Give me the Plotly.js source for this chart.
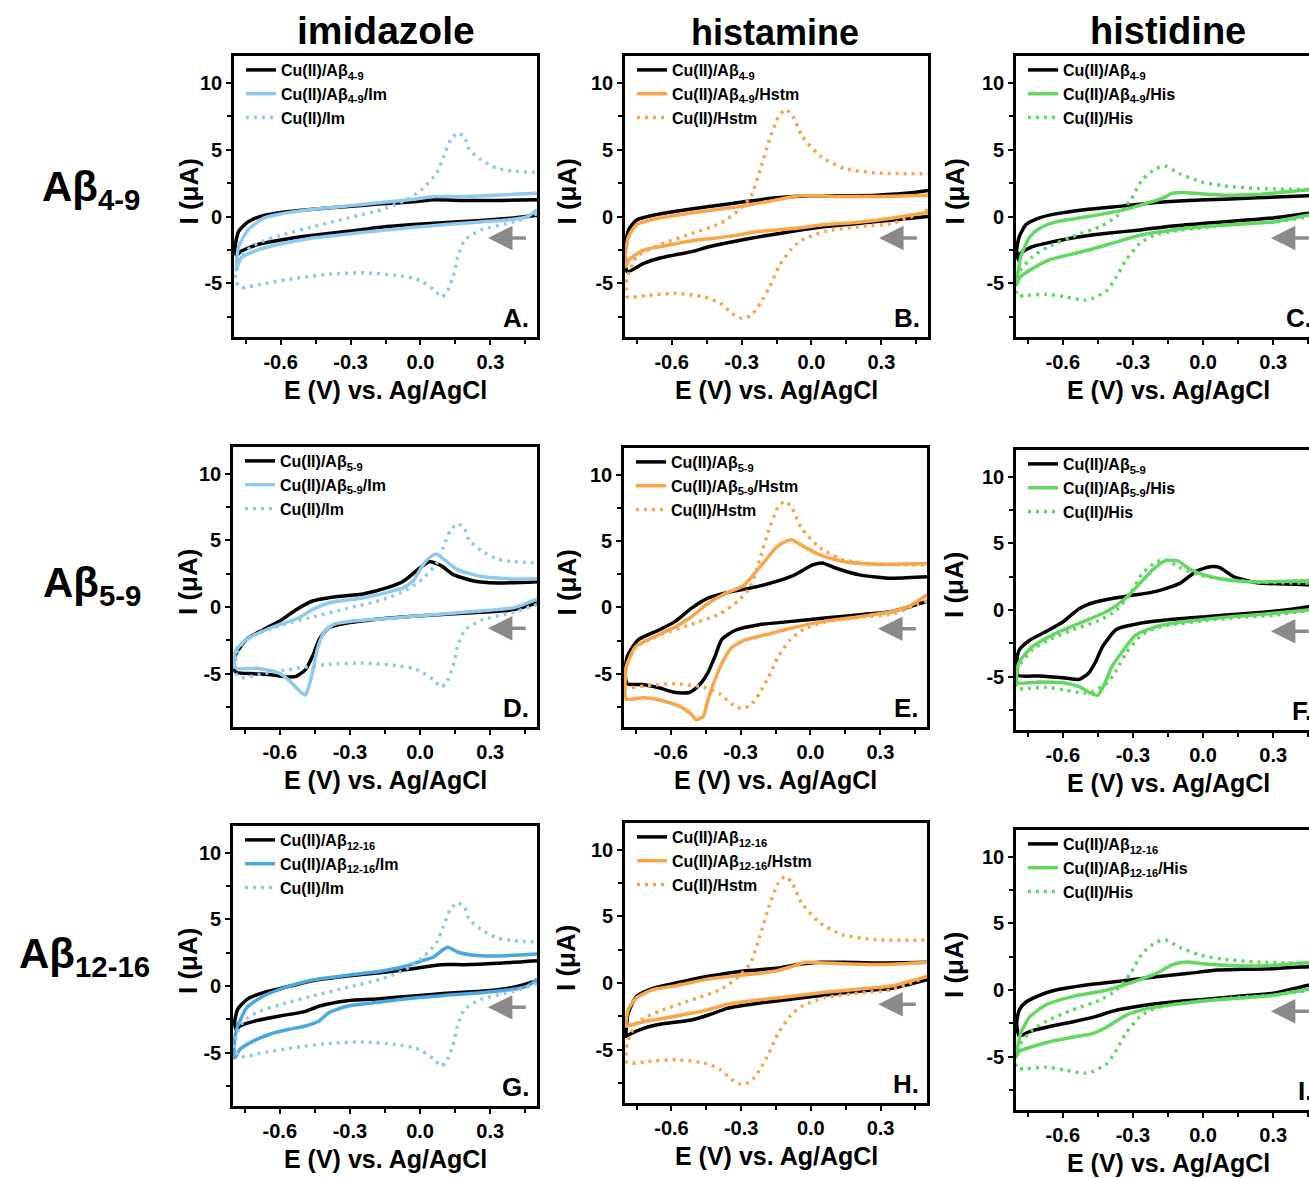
<!DOCTYPE html>
<html><head><meta charset="utf-8">
<script src="https://cdn.plot.ly/plotly-3.0.1.min.js"></script>
<style>html,body{margin:0;padding:0;overflow:hidden;background:#fff}#chart{width:1330px;height:1178px}</style>
</head><body><div id="chart"></div>
<script>
// ---------- DATA (E in V, I in µA), traced along each CV loop ----------
const imDotE  = [0.50,0.40,0.26,0.19,0.16,0.14,0.11,0.09,0.06,0.01,-0.03,-0.10,-0.24,-0.39,-0.53,-0.67,-0.77,-0.795,-0.785,-0.76,-0.70,-0.60,-0.46,-0.31,-0.17,-0.06,0.01,0.07,0.10,0.13,0.16,0.19,0.21,0.26,0.33,0.40,0.50];
const imDotI  = [0.2,-0.4,-1.0,-1.75,-3.0,-4.5,-5.75,-6.0,-5.5,-4.9,-4.6,-4.4,-4.2,-4.3,-4.6,-5.0,-5.3,-4.75,-3.75,-2.75,-2.0,-1.4,-0.75,-0.1,0.5,1.25,2.1,3.25,4.5,5.75,6.25,5.9,5.0,4.25,3.6,3.4,3.3];
const hstmDotE = [0.50,0.35,0.21,0.06,-0.04,-0.09,-0.14,-0.18,-0.22,-0.26,-0.30,-0.34,-0.39,-0.46,-0.58,-0.71,-0.79,-0.795,-0.79,-0.75,-0.65,-0.51,-0.39,-0.31,-0.26,-0.22,-0.18,-0.14,-0.11,-0.08,-0.04,0.04,0.14,0.28,0.50];
const hstmDotI = [0.5,-0.5,-0.75,-1.1,-1.75,-2.5,-3.75,-5.25,-6.5,-7.4,-7.6,-7.25,-6.5,-6.0,-5.75,-5.9,-6.0,-5.0,-4.5,-3.0,-2.1,-1.25,-0.5,0.5,1.5,3.5,5.75,7.5,8.0,7.5,6.0,4.5,3.6,3.25,3.2];
const hisDotE = [0.50,0.30,0.16,0.01,-0.13,-0.21,-0.27,-0.33,-0.37,-0.41,-0.47,-0.51,-0.59,-0.67,-0.76,-0.795,-0.80,-0.79,-0.73,-0.66,-0.56,-0.44,-0.37,-0.31,-0.26,-0.20,-0.16,-0.10,-0.01,0.09,0.23,0.50];
const hisDotI = [0.1,-0.4,-0.55,-0.8,-1.1,-1.4,-2.0,-3.25,-4.5,-5.5,-6.1,-6.25,-6.0,-5.8,-5.9,-5.9,-5.0,-4.25,-3.0,-2.25,-1.5,-0.75,0.0,1.25,2.75,3.6,3.75,3.2,2.6,2.3,2.1,2.0];

const aBlkE = [0.50,0.40,0.26,0.11,-0.03,-0.17,-0.31,-0.46,-0.60,-0.70,-0.77,-0.79,-0.795,-0.78,-0.74,-0.69,-0.60,-0.46,-0.31,-0.17,-0.03,0.06,0.19,0.33,0.50];
const aBlkI = [0.1,-0.1,-0.3,-0.45,-0.6,-0.8,-1.1,-1.4,-1.75,-2.1,-2.6,-2.9,-2.25,-1.1,-0.4,0.0,0.3,0.55,0.75,0.95,1.1,1.25,1.2,1.2,1.25];
const aImE  = [0.50,0.46,0.40,0.26,0.11,-0.03,-0.17,-0.31,-0.46,-0.60,-0.70,-0.77,-0.79,-0.79,-0.78,-0.74,-0.67,-0.60,-0.46,-0.31,-0.17,-0.03,0.06,0.19,0.33,0.50];
const aImI  = [0.5,0.0,-0.2,-0.4,-0.6,-0.8,-1.05,-1.3,-1.6,-2.05,-2.5,-3.1,-4.0,-3.75,-2.25,-1.0,-0.1,0.2,0.55,0.8,1.05,1.3,1.5,1.5,1.6,1.75];

const bBlkE = [0.50,0.35,0.21,0.06,-0.08,-0.22,-0.36,-0.44,-0.51,-0.65,-0.72,-0.79,-0.80,-0.785,-0.75,-0.68,-0.58,-0.44,-0.29,-0.15,0.0,0.14,0.28,0.44,0.50];
const bBlkI = [0.0,-0.25,-0.5,-0.75,-1.1,-1.5,-1.95,-2.25,-2.6,-3.1,-3.5,-4.1,-2.5,-1.0,-0.25,0.1,0.4,0.75,1.1,1.4,1.55,1.55,1.6,1.8,1.95];
const bHsE  = [0.50,0.35,0.21,0.06,-0.08,-0.22,-0.36,-0.51,-0.65,-0.72,-0.785,-0.795,-0.80,-0.785,-0.75,-0.68,-0.58,-0.44,-0.29,-0.15,-0.05,0.04,0.14,0.28,0.50];
const bHsI  = [0.3,-0.1,-0.4,-0.6,-0.9,-1.1,-1.5,-1.8,-2.25,-2.5,-3.25,-3.75,-3.25,-1.5,-0.6,-0.2,0.1,0.45,0.8,1.25,1.55,1.55,1.5,1.5,1.6];

const cBlkE = [0.50,0.45,0.30,0.16,0.01,-0.13,-0.27,-0.41,-0.56,-0.66,-0.73,-0.78,-0.79,-0.797,-0.786,-0.757,-0.70,-0.63,-0.49,-0.34,-0.20,-0.06,0.09,0.23,0.45,0.50];
const cBlkI = [0.35,0.25,-0.1,-0.3,-0.5,-0.7,-1.0,-1.25,-1.6,-1.95,-2.25,-2.75,-3.25,-2.5,-1.5,-0.6,-0.1,0.2,0.55,0.8,1.05,1.2,1.3,1.4,1.55,1.6];
const cHiE  = [0.50,0.45,0.30,0.16,0.01,-0.13,-0.27,-0.39,-0.49,-0.56,-0.66,-0.74,-0.786,-0.797,-0.797,-0.78,-0.74,-0.70,-0.63,-0.49,-0.34,-0.24,-0.17,-0.13,-0.09,-0.01,0.09,0.23,0.45,0.50];
const cHiI  = [0.2,0.1,-0.4,-0.55,-0.75,-1.0,-1.4,-2.0,-2.5,-2.8,-3.25,-4.0,-4.6,-5.1,-5.0,-3.0,-1.5,-0.9,-0.4,0.0,0.5,1.0,1.4,1.75,1.8,1.7,1.6,1.65,2.0,2.05];

const dBlkE = [0.50,0.40,0.26,0.11,-0.03,-0.17,-0.31,-0.39,-0.43,-0.46,-0.49,-0.53,-0.57,-0.63,-0.71,-0.786,-0.797,-0.793,-0.74,-0.67,-0.60,-0.53,-0.46,-0.39,-0.24,-0.14,-0.07,0.0,0.04,0.09,0.14,0.23,0.33,0.50];
const dBlkI = [0.3,-0.2,-0.4,-0.55,-0.7,-0.9,-1.2,-1.55,-2.4,-3.7,-4.7,-5.2,-5.25,-5.1,-5.0,-4.9,-4.4,-3.7,-2.4,-1.7,-1.05,-0.2,0.45,0.7,1.0,1.45,1.95,2.95,3.4,3.1,2.45,1.95,1.8,1.9];
const dImE  = [0.50,0.40,0.26,0.11,-0.03,-0.17,-0.31,-0.37,-0.41,-0.44,-0.46,-0.48,-0.49,-0.51,-0.56,-0.61,-0.70,-0.786,-0.797,-0.786,-0.74,-0.67,-0.60,-0.53,-0.46,-0.39,-0.24,-0.14,-0.07,-0.03,0.01,0.04,0.07,0.10,0.16,0.26,0.40,0.50];
const dImI  = [0.6,-0.05,-0.3,-0.5,-0.7,-0.9,-1.1,-1.3,-1.9,-3.2,-4.9,-6.2,-6.6,-6.4,-5.5,-4.9,-4.6,-4.6,-4.05,-3.2,-2.4,-1.8,-1.3,-0.9,-0.2,0.3,0.7,1.1,1.45,1.95,3.1,3.7,3.95,3.6,2.8,2.3,2.1,2.1];

const eBlkE = [0.50,0.35,0.21,0.06,-0.08,-0.22,-0.32,-0.38,-0.41,-0.44,-0.48,-0.52,-0.58,-0.65,-0.72,-0.786,-0.795,-0.786,-0.74,-0.65,-0.58,-0.51,-0.44,-0.36,-0.22,-0.08,0.01,0.05,0.11,0.21,0.35,0.50];
const eBlkI = [0.45,-0.3,-0.55,-0.8,-1.05,-1.3,-1.7,-2.4,-3.7,-4.9,-5.9,-6.4,-6.4,-6.05,-5.8,-5.75,-4.9,-3.7,-2.45,-1.7,-1.05,-0.05,0.7,1.1,1.6,2.35,3.2,3.35,2.95,2.45,2.2,2.3];
const eHsE  = [0.50,0.42,0.35,0.21,0.06,-0.08,-0.19,-0.28,-0.34,-0.38,-0.41,-0.44,-0.46,-0.49,-0.51,-0.56,-0.65,-0.72,-0.79,-0.795,-0.79,-0.75,-0.65,-0.58,-0.51,-0.44,-0.36,-0.29,-0.25,-0.19,-0.15,-0.11,-0.08,-0.04,0.04,0.14,0.28,0.50];
const eHsI  = [0.95,0.05,-0.3,-0.7,-1.05,-1.55,-2.05,-2.45,-3.05,-4.2,-5.45,-6.95,-8.2,-8.45,-8.05,-7.45,-6.95,-6.8,-6.9,-5.45,-4.45,-2.95,-2.05,-1.45,-0.7,0.3,1.1,1.6,2.35,3.6,4.45,4.95,5.1,4.7,3.95,3.45,3.25,3.3];

const fBlkE = [0.50,0.45,0.30,0.16,0.01,-0.13,-0.27,-0.37,-0.43,-0.46,-0.49,-0.53,-0.59,-0.70,-0.793,-0.797,-0.786,-0.74,-0.67,-0.60,-0.53,-0.46,-0.34,-0.20,-0.10,-0.03,0.03,0.07,0.13,0.23,0.45,0.50];
const fBlkI = [0.4,0.25,-0.1,-0.3,-0.5,-0.7,-1.0,-1.45,-2.75,-3.9,-4.75,-5.2,-5.1,-4.95,-4.9,-4.0,-3.0,-2.25,-1.6,-0.9,0.1,0.6,1.0,1.4,2.0,2.9,3.25,3.2,2.5,2.05,1.9,1.9];
const fHiE  = [0.50,0.45,0.30,0.16,0.01,-0.13,-0.21,-0.29,-0.34,-0.39,-0.42,-0.45,-0.48,-0.53,-0.60,-0.70,-0.793,-0.797,-0.786,-0.73,-0.63,-0.53,-0.41,-0.33,-0.27,-0.21,-0.16,-0.11,-0.06,0.01,0.11,0.23,0.45,0.50];
const fHiI  = [0.1,0.0,-0.25,-0.45,-0.7,-1.0,-1.3,-1.9,-3.0,-4.25,-5.5,-6.4,-6.25,-5.75,-5.45,-5.4,-5.45,-4.75,-3.9,-2.75,-1.75,-1.0,-0.1,0.9,2.0,3.1,3.7,3.7,3.1,2.6,2.25,2.1,2.2,2.2];

const gBlkE = [0.50,0.40,0.26,0.11,-0.03,-0.17,-0.31,-0.43,-0.49,-0.60,-0.70,-0.77,-0.786,-0.793,-0.78,-0.74,-0.67,-0.60,-0.46,-0.31,-0.17,-0.03,0.09,0.19,0.33,0.50];
const gBlkI = [0.4,-0.1,-0.4,-0.55,-0.75,-0.95,-1.1,-1.5,-1.9,-2.25,-2.6,-3.0,-3.25,-2.75,-1.75,-1.0,-0.5,-0.2,0.4,0.75,1.0,1.3,1.6,1.6,1.7,1.9];
const gImE  = [0.50,0.46,0.40,0.26,0.11,-0.03,-0.17,-0.31,-0.39,-0.43,-0.49,-0.56,-0.64,-0.71,-0.77,-0.793,-0.793,-0.78,-0.74,-0.67,-0.60,-0.46,-0.31,-0.17,-0.06,0.01,0.06,0.10,0.12,0.16,0.23,0.33,0.50];
const gImI  = [0.5,0.0,-0.25,-0.5,-0.7,-0.9,-1.2,-1.5,-2.0,-2.6,-3.0,-3.25,-3.6,-4.1,-4.75,-5.4,-4.0,-3.0,-1.6,-0.75,-0.25,0.45,0.8,1.1,1.5,1.9,2.2,2.75,2.9,2.55,2.3,2.25,2.4];

const hBlkE = [0.50,0.35,0.21,0.06,-0.08,-0.22,-0.36,-0.44,-0.51,-0.65,-0.72,-0.786,-0.795,-0.786,-0.75,-0.68,-0.58,-0.44,-0.29,-0.15,-0.05,0.04,0.14,0.28,0.50];
const hBlkI = [0.25,-0.4,-0.6,-0.9,-1.2,-1.5,-1.9,-2.4,-2.75,-3.1,-3.4,-3.9,-4.0,-2.25,-1.0,-0.4,0.0,0.5,0.9,1.1,1.4,1.55,1.55,1.5,1.55];
const hHsE  = [0.50,0.35,0.21,0.06,-0.08,-0.22,-0.36,-0.44,-0.51,-0.65,-0.72,-0.786,-0.795,-0.786,-0.75,-0.68,-0.58,-0.44,-0.29,-0.15,-0.08,-0.02,0.06,0.21,0.35,0.50];
const hHsI  = [0.5,-0.2,-0.45,-0.7,-1.0,-1.25,-1.6,-2.0,-2.25,-2.7,-2.9,-3.2,-3.25,-2.0,-1.1,-0.5,-0.2,0.3,0.6,0.9,1.25,1.55,1.5,1.4,1.4,1.55];

const iBlkE = [0.50,0.45,0.30,0.16,0.01,-0.13,-0.27,-0.39,-0.46,-0.56,-0.66,-0.74,-0.786,-0.797,-0.786,-0.757,-0.70,-0.63,-0.49,-0.34,-0.20,-0.06,0.06,0.16,0.30,0.45,0.50];
const iBlkI = [0.5,0.35,-0.25,-0.45,-0.7,-0.9,-1.2,-1.6,-2.0,-2.4,-2.75,-3.1,-3.45,-2.5,-1.5,-0.9,-0.4,0.0,0.4,0.7,1.0,1.25,1.5,1.55,1.6,1.75,1.8];
const iHiE  = [0.50,0.45,0.30,0.16,0.01,-0.13,-0.24,-0.33,-0.41,-0.47,-0.56,-0.66,-0.74,-0.786,-0.797,-0.797,-0.78,-0.74,-0.67,-0.56,-0.41,-0.30,-0.20,-0.13,-0.07,0.01,0.16,0.30,0.45,0.50];
const iHiI  = [0.2,0.05,-0.4,-0.6,-0.8,-1.1,-1.4,-1.9,-2.75,-3.25,-3.55,-3.9,-4.3,-4.6,-4.9,-4.75,-3.25,-2.0,-1.1,-0.5,0.0,0.6,1.25,1.9,2.1,1.95,1.8,1.85,2.05,2.1];

const colTitles = ['imidazole','histamine','histidine'];
const rowPeptides = ['4-9','5-9','12-16'];
const ligands = ['Im','Hstm','His'];
const panelLetters = ['A.','B.','C.','D.','E.','F.','G.','H.','I.'];
const xTickVals = [-0.6,-0.3,0.0,0.3], xTickText = ['-0.6','-0.3','0.0','0.3'];
const xMinor = [-0.75,-0.45,-0.15,0.15,0.45];
const yTickVals = [-5,0,5,10], yTickText = ['-5','0','5','10'];
const yMinor = [-7.5,-2.5,2.5,7.5];

// ---------- STYLE / LAYOUT ----------
const FONT = 'Arial, "Liberation Sans", Helvetica, sans-serif';
const W = 1330, H = 1178;
const colBlack = '#000000';
const ligColors = [['#8ecaee','#8ecaee','#4aa7e0'], ['#f9a64a','#f9a64a','#f9a64a'], ['#62d862','#62d862','#62d862']];
const dotData = [[imDotE, imDotI],[hstmDotE,hstmDotI],[hisDotE,hisDotI]];
const blkData = [[aBlkE,aBlkI],[bBlkE,bBlkI],[cBlkE,cBlkI],[dBlkE,dBlkI],[eBlkE,eBlkI],[fBlkE,fBlkI],[gBlkE,gBlkI],[hBlkE,hBlkI],[iBlkE,iBlkI]];
const mixData = [[aImE,aImI],[bHsE,bHsI],[cHiE,cHiI],[dImE,dImI],[eHsE,eHsI],[fHiE,fHiI],[gImE,gImI],[hHsE,hHsI],[iHiE,iHiI]];
// pixel boxes [left,right,top,bottom]
const boxes = [[234,537,56,337],[625,928,56,337],[1016,1320,56,337],
               [233,537,447,727],[624,927,448,727],[1016,1320,450,730],
               [233,537,826,1106],[625,927,823,1103],[1016,1320,830,1110]];
const yTitleX = [188,566,954];

const px = v => v / W, py = v => 1 - v / H;
const traces = [];
const layout = {width: W, height: H, margin: {l:0,r:0,t:0,b:0}, paper_bgcolor:'#fff', plot_bgcolor:'#fff',
  showlegend: true, font: {family: FONT, color:'#000'}, annotations: []};

for (let p = 0; p < 9; p++) {
  const r = Math.floor(p/3), c = p % 3;
  const [L,R,T,B] = boxes[p];
  const sfx = p === 0 ? '' : String(p+1);
  const xa = 'x' + sfx, ya = 'y' + sfx, lg = 'legend' + sfx;
  const axCommon = {showline:true, mirror:true, linecolor:'#000', linewidth:2.8, showgrid:false, zeroline:false,
    ticks:'outside', ticklen:5, tickwidth:2, tickcolor:'#000',
    tickfont:{family:FONT, size:20, weight:'bold', color:'#000'}, tickmode:'array', fixedrange:true};
  layout['xaxis'+sfx] = Object.assign({}, axCommon, {domain:[px(L),px(R)], anchor:ya, range:[-0.8,0.5],
    tickvals:xTickVals, ticktext:xTickText, minor:{tickmode:'array', tickvals:xMinor, ticks:'outside', ticklen:4, tickwidth:2, tickcolor:'#000'}});
  layout['yaxis'+sfx] = Object.assign({}, axCommon, {domain:[py(B),py(T)], anchor:xa, range:[-9,12],
    tickvals:yTickVals, ticktext:yTickText, minor:{tickmode:'array', tickvals:yMinor, ticks:'outside', ticklen:4, tickwidth:2, tickcolor:'#000'}});
  layout[lg] = {x:px(L+7), y:py(T-3), xanchor:'left', yanchor:'top', bgcolor:'rgba(0,0,0,0)', borderwidth:0,
    font:{family:FONT, size:16, weight:'bold', color:'#000'}, tracegroupgap:0, traceorder:'normal'};

  const pep = rowPeptides[r], lig = ligands[c], col = ligColors[c][r];
  traces.push({x:blkData[p][0], y:blkData[p][1], xaxis:xa, yaxis:ya, legend:lg, mode:'lines',
    name:'Cu(II)/Aβ<sub>'+pep+'</sub>', line:{color:colBlack, width:3.5, shape:'spline', smoothing:0.6}});
  traces.push({x:mixData[p][0], y:mixData[p][1], xaxis:xa, yaxis:ya, legend:lg, mode:'lines',
    name:'Cu(II)/Aβ<sub>'+pep+'</sub>/'+lig, line:{color:col, width:3.5, shape:'spline', smoothing:0.6}});
  traces.push({x:dotData[c][0], y:dotData[c][1], xaxis:xa, yaxis:ya, legend:lg, mode:'lines',
    name:'Cu(II)/'+lig, line:{color:ligColors[c][0], width:3.5, dash:'3px,5px', shape:'spline', smoothing:0.6}});

  // panel letter
  layout.annotations.push({xref:'paper', yref:'paper', x:px(R-6), y:py(B-2), xanchor:'right', yanchor:'bottom',
    text:'<b>'+panelLetters[p]+'</b>', showarrow:false, font:{family:FONT, size:26, color:'#000'}});
  // scan direction arrow
  layout.annotations.push({xref:xa, yref:ya, axref:xa, ayref:ya, x:0.29, y:-1.6, ax:0.465, ay:-1.6, text:' ',
    showarrow:true, arrowhead:2, arrowsize:1.4, arrowwidth:3.5, arrowcolor:'#8a8a8a'});
  // axis titles
  layout.annotations.push({xref:'paper', yref:'paper', x:px((L+R)/2), y:py(B+53), xanchor:'center', yanchor:'middle',
    text:'<b>E (V) vs. Ag/AgCl</b>', showarrow:false, font:{family:FONT, size:25, color:'#000'}});
  layout.annotations.push({xref:'paper', yref:'paper', x:px(yTitleX[c]), y:py((T+B)/2 - 5), xanchor:'center', yanchor:'middle',
    text:'<b>I (μA)</b>', textangle:-90, showarrow:false, font:{family:FONT, size:26, color:'#000'}});
}
// column titles
const colX = [386,775,1168], colY = [30,33,31], colSize = [39,36,38];
colTitles.forEach((t,i) => layout.annotations.push({xref:'paper', yref:'paper', x:px(colX[i]), y:py(colY[i]),
  xanchor:'center', yanchor:'middle', text:'<b>'+t+'</b>', showarrow:false, font:{family:FONT, size:colSize[i], color:'#000'}}));
// row labels
const rowX = [91,92,84], rowY = [190,585,956];
rowPeptides.forEach((s,i) => layout.annotations.push({xref:'paper', yref:'paper', x:px(rowX[i]), y:py(rowY[i]),
  xanchor:'center', yanchor:'middle', text:'<b>Aβ<sub>'+s+'</sub></b>', showarrow:false, font:{family:FONT, size:42, color:'#000'}}));

Plotly.newPlot('chart', traces, layout, {staticPlot:true, displayModeBar:false});
</script></body></html>
